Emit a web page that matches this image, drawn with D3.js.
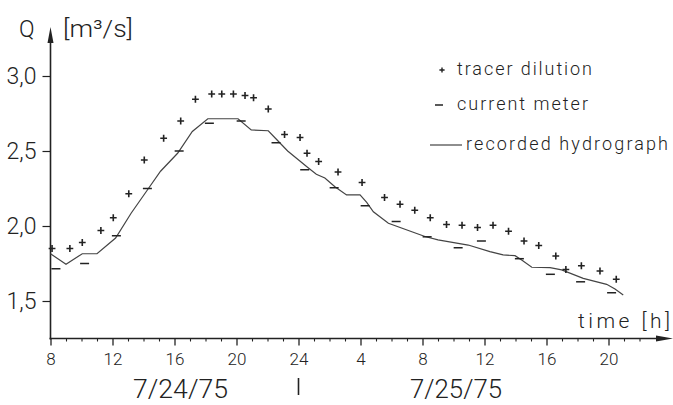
<!DOCTYPE html>
<html>
<head>
<meta charset="utf-8">
<script src="https://cdn.jsdelivr.net/npm/d3@7/dist/d3.min.js"></script>
<style>
  html, body { margin: 0; padding: 0; background: #fff; }
  svg { display: block; }
  text { font-family: Roboto, "Open Sans", "DejaVu Sans", sans-serif; font-weight: 300; fill: #222; }
</style>
</head>
<body>
<svg id="chart" width="673" height="405"></svg>
<script>
// Time is counted in hours from midnight of 7/24/75 (24 = midnight, 32 = 8 h next day).
const tracerTime = [8.1, 9.25, 10.05, 11.25, 12.05, 13.05, 14.05, 15.3, 16.4, 17.35, 18.4, 19.05, 19.8, 20.55, 21.1, 22.05, 23.1, 24.1, 24.55, 25.3, 26.55, 28.1, 29.55, 30.55, 31.5, 32.5, 33.55, 34.55, 35.55, 36.55, 37.55, 38.55, 39.5, 40.6, 41.25, 42.25, 43.45, 44.5];
const tracerQ    = [1.85, 1.85, 1.89, 1.97, 2.055, 2.215, 2.44, 2.585, 2.70, 2.845, 2.88, 2.88, 2.88, 2.87, 2.855, 2.78, 2.61, 2.59, 2.485, 2.43, 2.36, 2.29, 2.19, 2.145, 2.105, 2.055, 2.01, 2.005, 1.99, 2.005, 1.965, 1.90, 1.87, 1.80, 1.71, 1.735, 1.70, 1.645];

const meterTime = [8.35, 10.2, 12.25, 14.25, 16.3, 18.25, 20.3, 22.55, 24.4, 26.3, 28.3, 30.3, 32.3, 34.3, 35.8, 38.25, 40.25, 42.2, 44.2];
const meterQ    = [1.715, 1.75, 1.935, 2.25, 2.50, 2.685, 2.70, 2.555, 2.375, 2.255, 2.135, 2.03, 1.928, 1.855, 1.90, 1.782, 1.678, 1.628, 1.555];

const hydroTime = [8.0, 9.0, 10.05, 11.0, 12.2, 13.2, 14.25, 15.1, 16.2, 17.15, 18.15, 20.1, 20.95, 22.05, 22.65, 23.3, 24.6, 25.15, 25.7, 26.35, 27.1, 27.97, 28.4, 28.83, 29.8, 32.16, 33.0, 34.95, 36.35, 37.2, 37.97, 38.4, 39.05, 40.23, 40.98, 42.37, 43.88, 44.42, 44.95];
const hydroQ    = [1.815, 1.745, 1.815, 1.815, 1.92, 2.085, 2.24, 2.365, 2.485, 2.63, 2.715, 2.715, 2.64, 2.635, 2.57, 2.50, 2.39, 2.345, 2.32, 2.262, 2.207, 2.207, 2.158, 2.095, 2.018, 1.93, 1.907, 1.873, 1.829, 1.807, 1.802, 1.773, 1.725, 1.722, 1.707, 1.651, 1.611, 1.58, 1.54];

const xMajorTicks  = [8, 12, 16, 20, 24, 28, 32, 36, 40, 44];
const xTickLabels  = ["8", "12", "16", "20", "24", "4", "8", "12", "16", "20"];
const yTicks       = [1.5, 2.0, 2.5, 3.0];
const yTickLabels  = ["1,5", "2,0", "2,5", "3,0"];
const dateLabels   = ["7/24/75", "7/25/75"];
const legendLabels = ["tracer dilution", "current meter", "recorded hydrograph"];

const svg = d3.select("#chart");
const ink = "#222";

const x = d3.scaleLinear().domain([8, 48]).range([50.5, 670.5]);
const y = d3.scaleLinear().domain([1.25, 3.0]).range([338.5, 76]);

const x0 = x(8), yBase = y(1.25);

// ---- axes ----
const xAxis = svg.append("g").attr("transform", `translate(0,${yBase})`)
  .call(d3.axisBottom(x).tickValues(xMajorTicks).tickSize(7).tickPadding(7)
        .tickFormat((d, i) => xTickLabels[i]));
xAxis.select(".domain").remove();
xAxis.selectAll("line").attr("stroke", ink).attr("stroke-width", 1.3);
xAxis.selectAll("text").attr("font-size", 17).attr("font-family", null).attr("fill", "#333");

const minor = d3.range(9, 47).filter(h => (h - 8) % 4 !== 0);
const xMinor = svg.append("g").attr("transform", `translate(0,${yBase})`)
  .call(d3.axisBottom(x).tickValues(minor).tickSize(3).tickFormat(""));
xMinor.select(".domain").remove();
xMinor.selectAll("line").attr("stroke", ink).attr("stroke-width", 1.1);

const yAxis = svg.append("g").attr("transform", `translate(${x0},0)`)
  .call(d3.axisLeft(y).tickValues(yTicks).tickSize(8).tickPadding(6)
        .tickFormat((d, i) => yTickLabels[i]));
yAxis.select(".domain").remove();
yAxis.selectAll("line").attr("stroke", ink).attr("stroke-width", 1.2);
yAxis.selectAll("text").attr("font-size", 23).attr("font-family", null).attr("fill", "#333");

// axis lines with arrowheads
svg.append("line").attr("x1", x0).attr("x2", x0).attr("y1", yBase + 1).attr("y2", 40)
  .attr("stroke", ink).attr("stroke-width", 1.6);
svg.append("path").attr("d", `M${x0},27 L${x0 - 3},43 L${x0 + 3},43 Z`).attr("fill", ink);

svg.append("line").attr("x1", x0 - 1).attr("x2", 660).attr("y1", yBase).attr("y2", yBase)
  .attr("stroke", ink).attr("stroke-width", 1.6);
svg.append("path").attr("d", `M673,${yBase} L656,${yBase - 3} L656,${yBase + 3} Z`).attr("fill", ink);

// axis titles
svg.append("text").attr("x", 19).attr("y", 37).attr("font-size", 23).text("Q");
svg.append("text").attr("x", 63).attr("y", 37).attr("font-size", 24)
  .attr("textLength", 70).attr("lengthAdjust", "spacingAndGlyphs")
  .text("[m³/s]");
svg.append("text").attr("x", 578).attr("y", 328).attr("font-size", 21)
  .attr("textLength", 92).attr("lengthAdjust", "spacing").text("time [h]");

// date labels under the time axis
svg.append("text").attr("x", 180.5).attr("y", 398).attr("text-anchor", "middle")
  .attr("font-size", 26).attr("textLength", 95).attr("lengthAdjust", "spacingAndGlyphs").text(dateLabels[0]);
svg.append("text").attr("x", 456).attr("y", 398).attr("text-anchor", "middle")
  .attr("font-size", 26).attr("textLength", 92).attr("lengthAdjust", "spacingAndGlyphs").text(dateLabels[1]);
svg.append("line").attr("x1", x(24)).attr("x2", x(24)).attr("y1", 378).attr("y2", 395)
  .attr("stroke", ink).attr("stroke-width", 1.6);

// ---- recorded hydrograph ----
const line = d3.line().x(d => x(d[0])).y(d => y(d[1]));
svg.append("path").datum(hydroTime.map((t, i) => [t, hydroQ[i]]))
  .attr("d", line).attr("fill", "none").attr("stroke", "#444").attr("stroke-width", 1.2);

// ---- current meter (dashes) ----
svg.append("g").selectAll("line").data(meterTime).join("line")
  .attr("x1", d => x(d) - 4.5).attr("x2", d => x(d) + 4.5)
  .attr("y1", (d, i) => y(meterQ[i])).attr("y2", (d, i) => y(meterQ[i]))
  .attr("stroke", ink).attr("stroke-width", 1.5);

// ---- tracer dilution (crosses) ----
const cross = s => `M${-s},0H${s}M0,${-s}V${s}`;
svg.append("g").selectAll("path").data(tracerTime).join("path")
  .attr("transform", (d, i) => `translate(${x(d)},${y(tracerQ[i])})`)
  .attr("d", cross(3.4)).attr("stroke", ink).attr("stroke-width", 1.6).attr("fill", "none");

// ---- legend ----
const lg = svg.append("g");
lg.append("path").attr("transform", "translate(442,70)").attr("d", cross(2.6))
  .attr("stroke", ink).attr("stroke-width", 1.4);
lg.append("text").attr("x", 457).attr("y", 75).attr("font-size", 18)
  .attr("textLength", 135).attr("lengthAdjust", "spacing").text(legendLabels[0]);
lg.append("line").attr("x1", 435).attr("x2", 443).attr("y1", 105).attr("y2", 105)
  .attr("stroke", ink).attr("stroke-width", 1.5);
lg.append("text").attr("x", 457).attr("y", 110).attr("font-size", 18)
  .attr("textLength", 131).attr("lengthAdjust", "spacing").text(legendLabels[1]);
lg.append("line").attr("x1", 430).attr("x2", 462).attr("y1", 145).attr("y2", 145)
  .attr("stroke", "#444").attr("stroke-width", 1.2);
lg.append("text").attr("x", 466).attr("y", 150).attr("font-size", 18)
  .attr("textLength", 202).attr("lengthAdjust", "spacing").text(legendLabels[2]);
</script>
</body>
</html>
